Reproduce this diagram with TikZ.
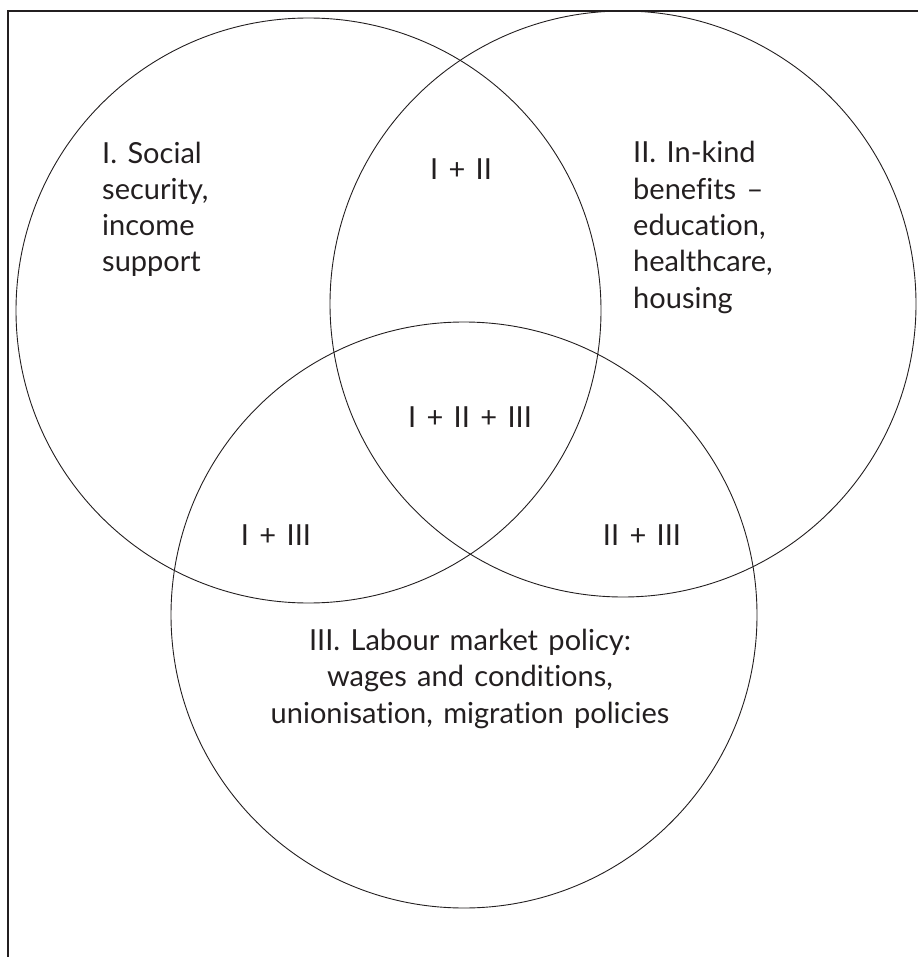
\documentclass[tikz,border=0pt]{standalone}
\usepackage{fontspec}
\setmainfont{Lato}[Ligatures=NoCommon, WordSpace=1.4]
\usepackage{tikz}
\definecolor{ink}{HTML}{231F20}

\begin{document}
\begin{tikzpicture}[
  x=1pt, y=-1pt,
  font=\fontsize{29}{36.3}\selectfont, text=ink,
  ring/.style={circle, draw=ink, line width=0.9pt, inner sep=0pt, minimum size=#1},
  frameline/.style={draw=ink, line width=1.3pt},
  side/.style={inner sep=0pt, align=left, anchor=base west},
  mid/.style={inner sep=0pt, align=center, anchor=base}]
  \useasboundingbox (0,0) rectangle (918,957);
  % open frame, top and left edge only
  \draw[frameline] (918,11) -- (8,11) -- (8,957);
  % the three policy areas
  \node[ring=585pt] (cashc)   at (308.5,310.5) {};
  \node[ring=586pt] (kindc)   at (623,304)     {};
  \node[ring=586pt] (labourc) at (464,615)     {};
  % area names (base sits on the last line)
  \node[side] (cash) at (102,272) {I. Social\\security,\\income\\support};
  \node[side] (kind) at (633,308) {II. In-kind\\benefits --\\education,\\healthcare,\\housing};
  \node[mid] (labour) at (470,723) {III. Labour market policy:\\wages and conditions,\\unionisation, migration policies};
  % overlaps
  \node[mid] (ab)  at (461,180) {I + II};
  \node[mid] (abc) at (470,427) {I + II + III};
  \node[mid] (ac)  at (276,545) {I + III};
  \node[mid] (bc)  at (642,545) {II + III};
\end{tikzpicture}
\end{document}
